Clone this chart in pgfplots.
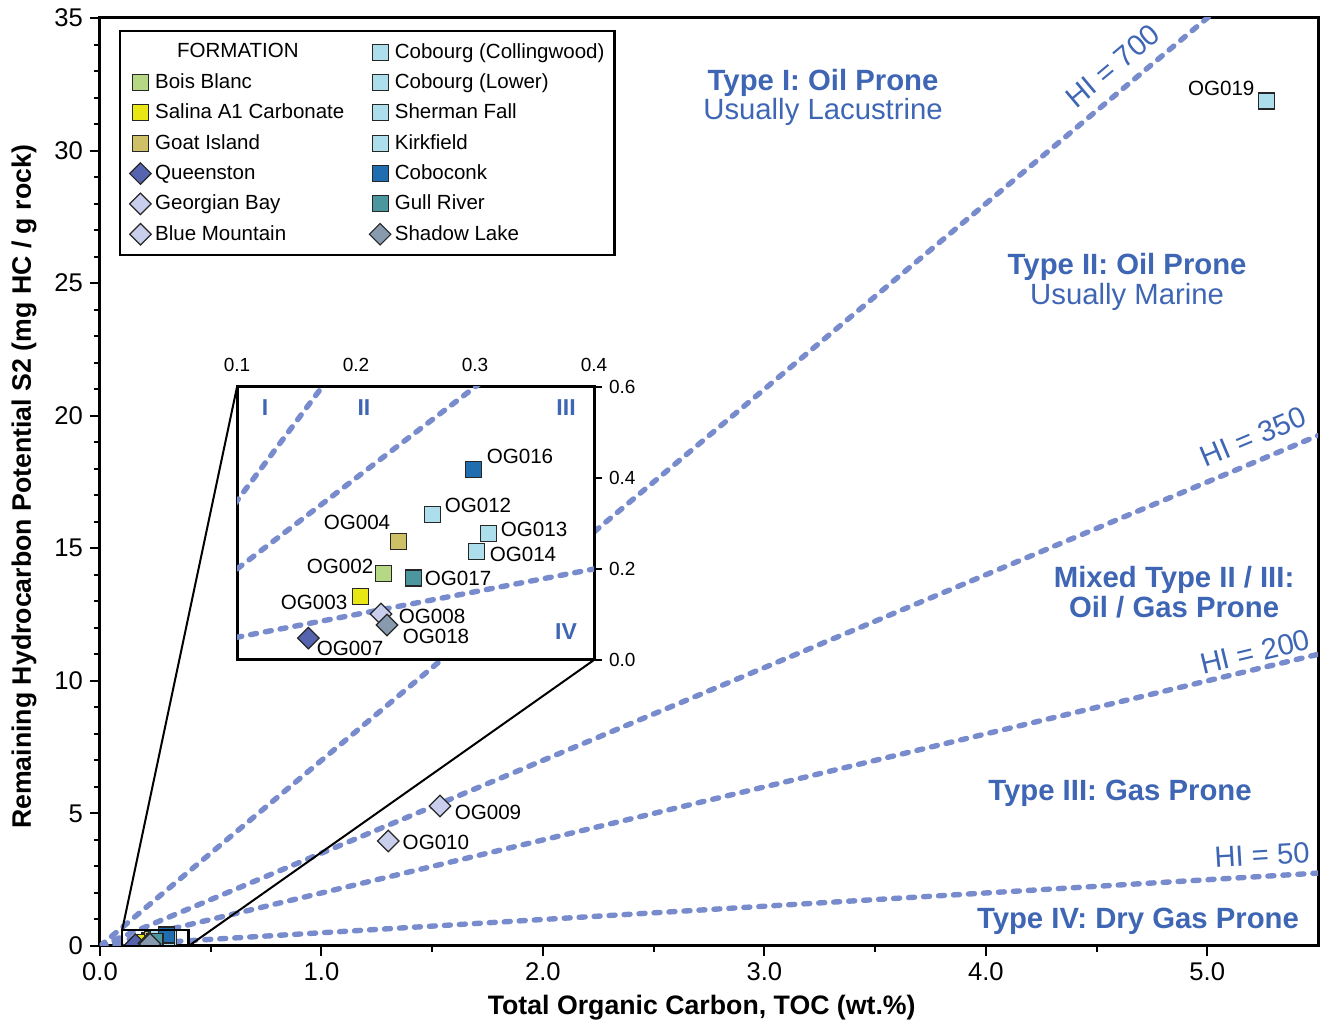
\documentclass[border=0pt]{standalone}
\usepackage{fontspec}
\setmainfont{Liberation Sans}
\usepackage{pgfplots}
\pgfplotsset{compat=1.18}
\definecolor{hiline}{RGB}{120,140,205}
\definecolor{regtxt}{RGB}{62,102,180}
\definecolor{cBois}{RGB}{182,216,132}
\definecolor{cSalina}{RGB}{232,230,20}
\definecolor{cGoat}{RGB}{206,192,102}
\definecolor{cQueen}{RGB}{86,100,176}
\definecolor{cGeorg}{RGB}{200,206,236}
\definecolor{cCob}{RGB}{172,222,236}
\definecolor{cCobo}{RGB}{32,110,176}
\definecolor{cGull}{RGB}{76,150,160}
\definecolor{cShadow}{RGB}{136,154,174}
\newcommand{\fs}[1]{\fontsize{#1}{#1}\selectfont}
\pgfplotsset{
  sq/.style={only marks, mark=square*, mark size=4pt,
    mark options={fill=#1, draw=black!85, line width=0.6pt}},
  dm/.style={only marks, mark=square*, mark size=3.8pt,
    mark options={fill=#1, draw=black!85, line width=0.6pt, rotate=45}},
  hi/.style={no marks, forget plot, color=hiline, line width=2.7pt, line cap=round,
    dash pattern=on 3pt off 4.5pt},
}
\begin{document}
\begin{tikzpicture}
\begin{axis}[
  scale only axis, width=609pt, height=464pt,
  xmin=0, xmax=5.5, ymin=0, ymax=35,
  xtick={0,1,2,3,4,5}, xticklabels={0.0,1.0,2.0,3.0,4.0,5.0},
  minor x tick num=1,
  ytick={0,5,10,15,20,25,30,35}, minor y tick num=4,
  tick align=outside, xtick pos=left, ytick pos=left,
  major tick length=5pt, minor tick length=3pt,
  every tick/.style={black, line width=1pt},
  axis line style={line width=1.5pt},
  tick label style={font=\fs{12.8}},
  /pgf/number format/assume math mode=true,
  xlabel={Total Organic Carbon, TOC (wt.\%)},
  ylabel={Remaining Hydrocarbon Potential S2 (mg HC / g rock)},
  label style={font=\bfseries\fs{13.35}},
  xlabel style={at={(axis description cs:0.494,-0.0668)}, anchor=center},
  ylabel style={at={(axis description cs:-0.0624,0.4946)}, anchor=center},
  clip marker paths=true,
  legend columns=7, transpose legend,
  legend cell align=left,
  legend style={at={(0,1)}, anchor=north west, xshift=9.5pt, yshift=-6pt,
    draw=black, line width=1.2pt, font=\fs{10.25},
    inner xsep=3pt, inner ysep=4pt, row sep=2.25pt,
    /tikz/every even column/.append style={column sep=10.5pt}},
  legend image code/.code={\draw[mark repeat=2,mark phase=2,#1] plot coordinates {(0cm,0cm) (0.25cm,0cm) (0.5cm,0cm)};},
]
\coordinate (mSW) at (rel axis cs:0,0);
\coordinate (mNE) at (rel axis cs:1,1);
\coordinate (insetSW) at (axis cs:0.6187,10.787);
\addplot[hi] coordinates {(0,0) (5.5,38.5)};
\addplot[hi] coordinates {(0,0) (5.5,19.25)};
\addplot[hi] coordinates {(0,0) (5.5,11)};
\addplot[hi] coordinates {(0,0) (5.5,2.75)};
\addlegendimage{legend image code/.code={}}
\addlegendentry{\hspace{11pt}FORMATION}
\addplot[sq=cBois] coordinates {(0.223,0.19)};
\addlegendentry{Bois Blanc}
\addplot[sq=cSalina] coordinates {(0.204,0.139)};
\addlegendentry{Salina A1 Carbonate}
\addplot[sq=cGoat] coordinates {(0.236,0.26)};
\addlegendentry{Goat Island}
\addplot[dm=cQueen] coordinates {(0.160,0.048)};
\addlegendentry{Queenston}
\addplot[dm=cGeorg] coordinates {(0.221,0.101) (1.535,5.28)};
\addlegendentry{Georgian Bay}
\addplot[dm=cGeorg] coordinates {(1.302,3.96)};
\addlegendentry{Blue Mountain}
\addplot[sq=cCob] coordinates {(5.268,31.87)};
\addlegendentry{Cobourg (Collingwood)}
\addplot[sq=cCob] coordinates {(0.264,0.319)};
\addlegendentry{Cobourg (Lower)}
\addplot[sq=cCob] coordinates {(0.311,0.278)};
\addlegendentry{Sherman Fall}
\addplot[sq=cCob] coordinates {(0.301,0.238)};
\addlegendentry{Kirkfield}
\addplot[sq=cCobo] coordinates {(0.299,0.418)};
\addlegendentry{Coboconk}
\addplot[sq=cGull] coordinates {(0.248,0.180)};
\addlegendentry{Gull River}
\addplot[dm=cShadow] coordinates {(0.226,0.077)};
\addlegendentry{Shadow Lake}
% zoom box and connectors
\draw[line width=1.2pt] (axis cs:0.1,0) rectangle (axis cs:0.4,0.6);
\draw[line width=1pt] (axis cs:0.1,0.6) -- (axis cs:0.6187,21.083);
\draw[line width=1pt] (axis cs:0.4,0) -- (axis cs:2.2307,10.787);
% labels
\node[text=regtxt, font=\fs{14.65}, align=center] at (axis cs:3.265,32.0)
  {\textbf{Type I: Oil Prone}\\Usually Lacustrine};
\node[text=regtxt, font=\fs{14.65}, align=center] at (axis cs:4.638,25.04)
  {\textbf{Type II: Oil Prone}\\Usually Marine};
\node[text=regtxt, font=\bfseries\fs{14.65}, align=center] at (axis cs:4.85,13.35)
  {Mixed Type II / III:\\Oil / Gas Prone};
\node[text=regtxt, font=\bfseries\fs{14.65}] at (axis cs:4.606,5.77) {Type III: Gas Prone};
\node[text=regtxt, font=\bfseries\fs{14.65}] at (axis cs:4.687,0.943) {Type IV: Dry Gas Prone};
\node[text=regtxt, font=\fs{14.65}, rotate=39.97] at (axis cs:4.574,33.19) {HI = 700};
\node[text=regtxt, font=\fs{14.65}, rotate=22.74] at (axis cs:5.207,19.2) {HI = 350};
\node[text=regtxt, font=\fs{14.65}, rotate=13.47] at (axis cs:5.216,11.09) {HI = 200};
\node[text=regtxt, font=\fs{14.65}, rotate=3.43] at (axis cs:5.247,3.43) {HI = 50};
\node[font=\fs{10.3}] at (axis cs:5.063,32.36) {OG019};
\node[font=\fs{10.3}] at (axis cs:1.752,5.02) {OG009};
\node[font=\fs{10.3}] at (axis cs:1.517,3.92) {OG010};
\end{axis}
\begin{axis}[
  at={(insetSW)}, anchor=south west,
  scale only axis, width=178.5pt, height=136.5pt,
  xmin=0.1, xmax=0.4, ymin=0, ymax=0.6,
  axis background/.style={fill=white},
  axis line style={line width=1.5pt},
  xtick={0.1,0.2,0.3,0.4}, xticklabels={0.1,0.2,0.3,0.4},
  ytick={0,0.2,0.4,0.6}, yticklabels={0.0,0.2,0.4,0.6},
  xticklabel pos=right, yticklabel pos=right,
  xtick pos=right, ytick pos=right,
  tick align=outside,
  major x tick style={draw=none},
  major y tick style={line width=1pt, black}, major tick length=4pt,
  tick label style={font=\fs{9.5}},
  clip marker paths=true,
]
\addplot[hi] coordinates {(0,0) (0.5,3.5)};
\addplot[hi] coordinates {(0,0) (0.5,1.75)};
\addplot[hi] coordinates {(0,0) (0.5,1.0)};
\addplot[hi] coordinates {(0,0) (0.5,0.25)};
\addplot[sq=cBois] coordinates {(0.223,0.19)};
\addplot[sq=cSalina] coordinates {(0.204,0.139)};
\addplot[sq=cGoat] coordinates {(0.236,0.26)};
\addplot[dm=cQueen] coordinates {(0.160,0.048)};
\addplot[dm=cGeorg] coordinates {(0.221,0.101)};
\addplot[sq=cCob] coordinates {(0.264,0.319)};
\addplot[sq=cCob] coordinates {(0.311,0.278)};
\addplot[sq=cCob] coordinates {(0.301,0.238)};
\addplot[sq=cCobo] coordinates {(0.299,0.418)};
\addplot[sq=cGull] coordinates {(0.248,0.180)};
\addplot[dm=cShadow] coordinates {(0.226,0.077)};
\node[font=\fs{10.3}] at (axis cs:0.3378,0.448) {OG016};
\node[font=\fs{10.3}] at (axis cs:0.3025,0.3407) {OG012};
\node[font=\fs{10.3}] at (axis cs:0.3496,0.288) {OG013};
\node[font=\fs{10.3}] at (axis cs:0.3403,0.233) {OG014};
\node[font=\fs{10.3}] at (axis cs:0.2008,0.303) {OG004};
\node[font=\fs{10.3}] at (axis cs:0.1866,0.2066) {OG002};
\node[font=\fs{10.3}] at (axis cs:0.2857,0.180) {OG017};
\node[font=\fs{10.3}] at (axis cs:0.1647,0.1275) {OG003};
\node[font=\fs{10.3}] at (axis cs:0.2639,0.0967) {OG008};
\node[font=\fs{10.3}] at (axis cs:0.2672,0.0527) {OG018};
\node[font=\fs{10.3}] at (axis cs:0.195,0.0264) {OG007};
\node[text=regtxt, font=\bfseries\fs{11.5}] at (axis cs:0.1235,0.554) {I};
\node[text=regtxt, font=\bfseries\fs{11.5}] at (axis cs:0.2067,0.554) {II};
\node[text=regtxt, font=\bfseries\fs{11.5}] at (axis cs:0.3765,0.554) {III};
\node[text=regtxt, font=\bfseries\fs{11.5}] at (axis cs:0.3765,0.0615) {IV};
\end{axis}
\pgfresetboundingbox
\path[use as bounding box] ([xshift=-50pt,yshift=-40.5pt]mSW) rectangle ([xshift=2pt,yshift=9pt]mNE);
\end{tikzpicture}
\end{document}
